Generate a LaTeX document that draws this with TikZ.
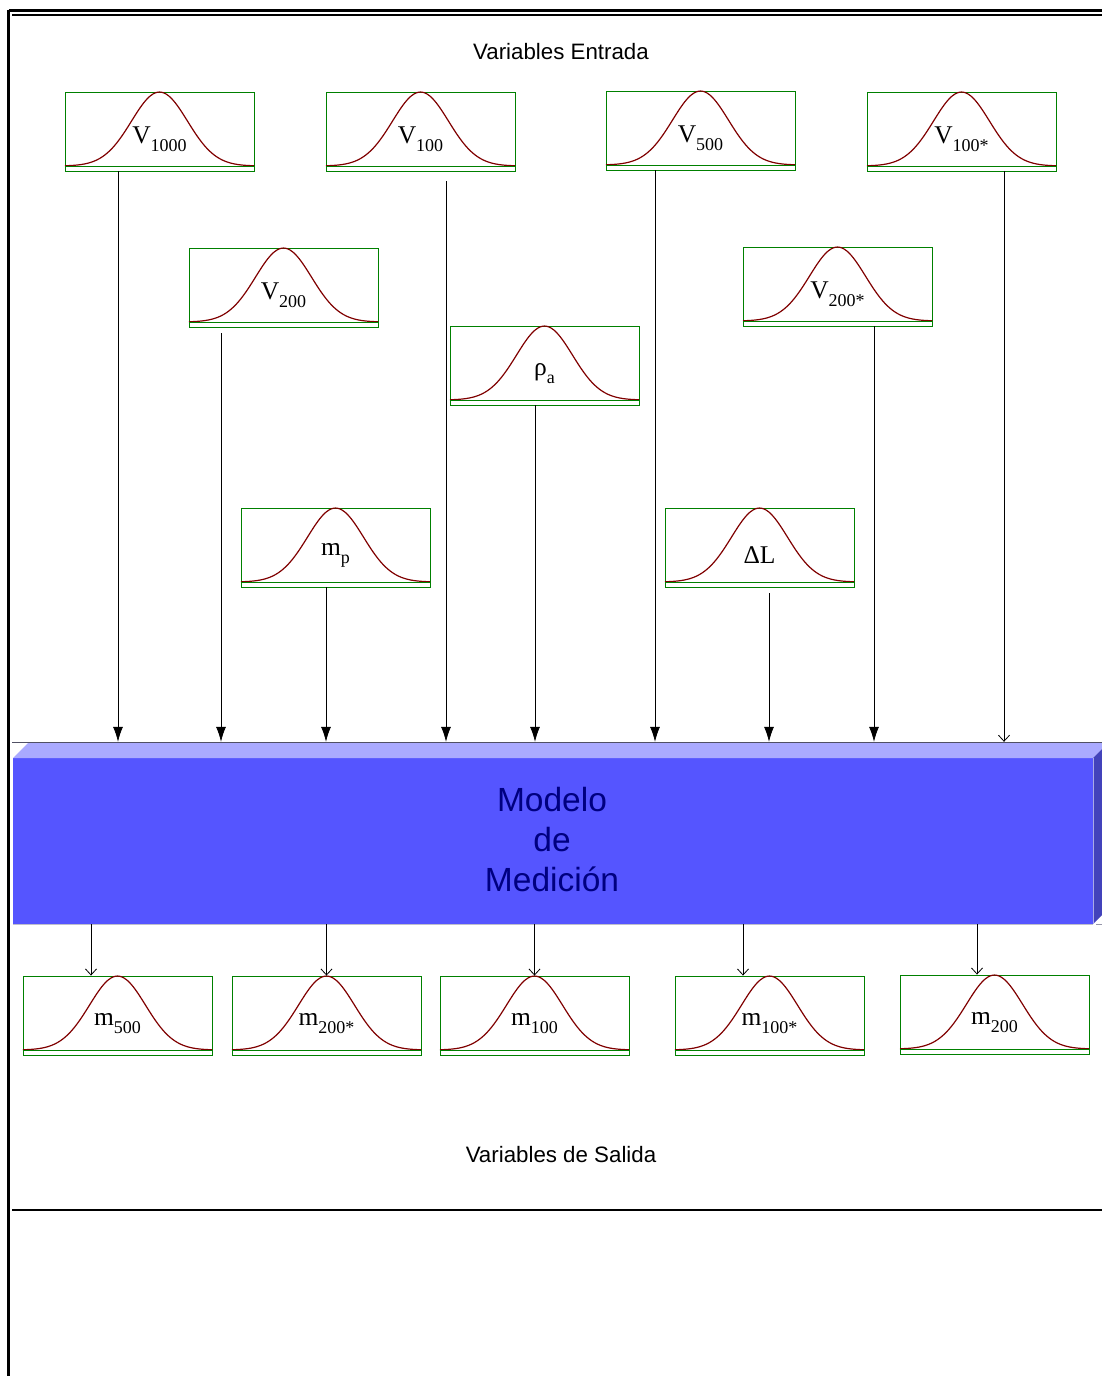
\documentclass[tikz,border=0pt]{standalone}
\usepackage{fontspec}
\setmainfont{Liberation Serif}
\newfontfamily\arialf{Liberation Sans}
\usetikzlibrary{arrows.meta}
\definecolor{boxgreen}{RGB}{0,128,0}
\definecolor{curvered}{RGB}{128,0,0}
\definecolor{frontblue}{RGB}{85,85,255}
\definecolor{topblue}{RGB}{170,170,255}
\definecolor{sideblue}{RGB}{67,67,187}
\definecolor{navytxt}{RGB}{0,0,128}
\newcommand\sbs[1]{\raisebox{-8pt}{\fontsize{18}{18}\selectfont #1}}
\newcommand\distnode[4]{%
  \node[dbox] (#1) at (#2,#3) {};
  \draw[curvestyle] plot[domain=-94.5:94.5,samples=61,smooth] ({#2+\x},{#3+34.5-74*exp(-0.5*(\x/28)*(\x/28))});
  \draw[boxline] ([yshift=5pt]#1.south west) -- ([yshift=5pt]#1.south east);
  \node[lbl] (#1-l) at (#2,#3+8) {#4};
}
\tikzset{
  dbox/.style={draw=boxgreen, line width=0.9pt, minimum width=189pt, minimum height=79pt, inner sep=0pt, fill=white},
  boxline/.style={draw=boxgreen, line width=0.9pt},
  curvestyle/.style={draw=curvered, line width=1.2pt},
  lbl/.style={font=\fontsize{25.5}{25.5}\selectfont, inner sep=0pt, text=black},
  inarr/.style={draw=black, line width=0.8pt, -{Latex[length=15pt,width=10pt]}},
  openarr/.style={draw=black, line width=0.8pt, -{Straight Barb[length=6pt,width=11pt]}},
  border/.style={draw=black, line width=2.5pt},
  titletxt/.style={font=\arialf\fontsize{22.3}{26}\selectfont, inner sep=0pt}
}
\begin{document}
\begin{tikzpicture}[x=1pt,y=-1pt]
\useasboundingbox (0,0) rectangle (1102,1376);
\begin{scope}
\clip (0,0) rectangle (1102,1376);
% frame lines
\draw[border] (8.5,10.5) -- (1110,10.5);
\draw[border,line width=2pt] (12,14.5) -- (1110,14.5);
\draw[border] (8.5,9.5) -- (8.5,1380);
\draw[border,line width=2.2pt] (12,1210) -- (1110,1210);

% titles
\node[titletxt] (tin) at (561,52) {Variables Entrada};
\node[titletxt] (tout) at (561,1155) {Variables de Salida};

% model block
\node[minimum width=1089pt, minimum height=182pt, inner sep=0pt] (model) at (557.5,833) {};
\fill[frontblue] (13,758) rectangle (1093,924);
\fill[topblue] (13,758) -- (29,742) -- (1109,742) -- (1093,758) -- cycle;
\fill[sideblue] (1093,758) -- (1109,742) -- (1109,908) -- (1093,924) -- cycle;
\draw[draw={rgb,255:red,80;green,80;blue,100}, line width=1pt] (12,742) -- (1110,742);
\draw[draw={rgb,255:red,190;green,190;blue,205}, line width=1pt] (13,924.5) -- (1093,924.5);
\draw[draw={rgb,255:red,150;green,150;blue,170}, line width=1pt] (1096,924.5) -- (1110,924.5);
\draw[draw={rgb,255:red,170;green,170;blue,230}, line width=0.8pt] (1093,758) -- (1093,924);
\node[font=\arialf\fontsize{33.5}{40}\selectfont, text=navytxt, align=center, inner sep=0pt] (modeltxt) at (552,840) {Modelo\\de\\Medición};

% input distributions
\distnode{v1000}{159.5}{131.5}{V\sbs{1000}}
\distnode{v100}{420.5}{131.5}{V\sbs{100}}
\distnode{v500}{700.5}{130.5}{V\sbs{500}}
\distnode{v100s}{961.5}{131.5}{V\sbs{100*}}
\distnode{v200}{283.5}{287.5}{V\sbs{200}}
\distnode{v200s}{837.5}{286.5}{V\sbs{200*}}
\distnode{rhoa}{544.5}{365.5}{ρ\sbs{a}}
\distnode{mp}{335.5}{547.5}{m\sbs{p}}
\distnode{dl}{759.5}{547.5}{ΔL}

% output distributions
\distnode{m500}{117.5}{1015.5}{m\sbs{500}}
\distnode{m200s}{326.5}{1015.5}{m\sbs{200*}}
\distnode{m100}{534.5}{1015.5}{m\sbs{100}}
\distnode{m100s}{769.5}{1015.5}{m\sbs{100*}}
\distnode{m200}{994.5}{1014.5}{m\sbs{200}}

% input arrows
\draw[inarr] ([xshift=-41.5pt]v1000.south) -- ([xshift=-41.5pt]v1000.south |- model.north);
\draw[inarr] ([xshift=-62.5pt,yshift=-6pt]v200.south) -- ([xshift=-62.5pt]v200.south |- model.north);
\draw[inarr] ([xshift=-9.5pt]mp.south) -- ([xshift=-9.5pt]mp.south |- model.north);
\draw[inarr] ([xshift=25.5pt,yshift=-10pt]v100.south) -- ([xshift=25.5pt]v100.south |- model.north);
\draw[inarr] ([xshift=-9.5pt]rhoa.south) -- ([xshift=-9.5pt]rhoa.south |- model.north);
\draw[inarr] ([xshift=-45.5pt]v500.south) -- ([xshift=-45.5pt]v500.south |- model.north);
\draw[inarr] ([xshift=9.5pt,yshift=-6pt]dl.south) -- ([xshift=9.5pt]dl.south |- model.north);
\draw[inarr] ([xshift=36.5pt]v200s.south) -- ([xshift=36.5pt]v200s.south |- model.north);
\draw[openarr] ([xshift=42.5pt]v100s.south) -- ([xshift=42.5pt]v100s.south |- model.north);

% output arrows
\draw[openarr] ([xshift=-26.5pt]m500.north |- model.south) -- ([xshift=-26.5pt]m500.north);
\draw[openarr] (m200s.north |- model.south) -- (m200s.north);
\draw[openarr] (m100.north |- model.south) -- (m100.north);
\draw[openarr] ([xshift=-26.5pt]m100s.north |- model.south) -- ([xshift=-26.5pt]m100s.north);
\draw[openarr] ([xshift=-17.5pt]m200.north |- model.south) -- ([xshift=-17.5pt]m200.north);
\end{scope}
\end{tikzpicture}
\end{document}
